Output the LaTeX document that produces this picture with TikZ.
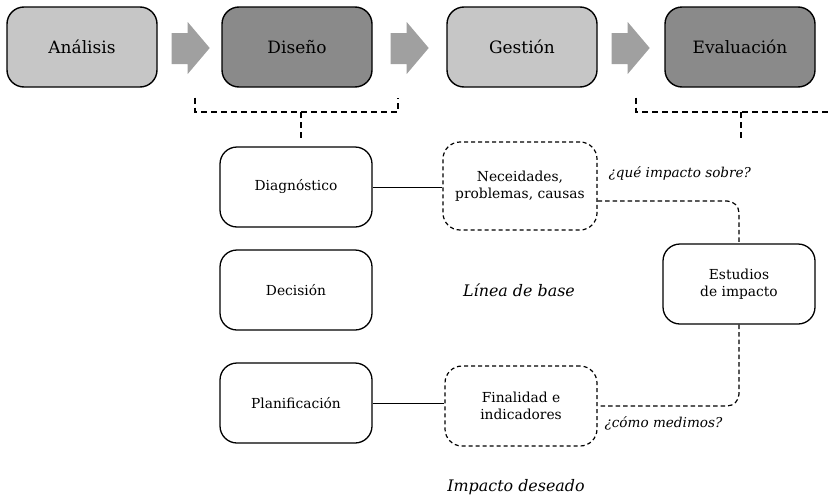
\documentclass[tikz,border=0pt]{standalone}
\usepackage{fontspec}
\setmainfont{DejaVu Serif}
\usetikzlibrary{calc}
\definecolor{lightbox}{HTML}{C6C6C6}
\definecolor{darkbox}{HTML}{8A8A8A}
\definecolor{arrowgray}{HTML}{A0A0A0}
\tikzset{
  phase/.style={draw, line width=1.4pt, rounded corners=17pt, minimum width=150pt, minimum height=80pt, inner sep=0pt, font=\fontsize{17}{20}\selectfont},
  lightphase/.style={phase, fill=lightbox},
  darkphase/.style={phase, fill=darkbox},
  stagebox/.style={draw, line width=1.3pt, rounded corners=17pt, minimum width=152pt, minimum height=80pt, inner sep=0pt, align=center, font=\fontsize{13.8}{17}\selectfont},
  dashbox/.style={stagebox, line width=1.2pt, dash pattern=on 4pt off 3pt},
  solidlink/.style={line width=1pt},
  dashlink/.style={line width=1.2pt, dash pattern=on 4.5pt off 3pt, rounded corners=12pt},
  bracket/.style={line width=2pt, dash pattern=on 6pt off 4pt},
  note/.style={font=\fontsize{13.6}{16}\selectfont\itshape},
  bignote/.style={font=\fontsize{15.9}{19}\selectfont\itshape},
  blockarrow/.style={fill=arrowgray}
}
\begin{document}
\begin{tikzpicture}[x=1pt,y=-1pt]
\useasboundingbox (0,0) rectangle (832,498);
% top phases
\node[lightphase] (ana) at (82,47) {Análisis};
\node[darkphase] (dis) at (297,47) {Diseño};
\node[lightphase] (ges) at (522,47) {Gestión};
\node[darkphase] (eva) at (740,47) {Evaluación};
% block arrows
\fill[blockarrow] ($(ana.east)+(14,-14)$) -- ++(16,0) -- ++(0,-11) -- ++(22,26) -- ++(-22,26) -- ++(0,-10) -- ++(-16,0) -- cycle;
\fill[blockarrow] ($(dis.east)+(18,-14)$) -- ++(16,0) -- ++(0,-11) -- ++(22,26) -- ++(-22,26) -- ++(0,-10) -- ++(-16,0) -- cycle;
\fill[blockarrow] ($(ges.east)+(14,-14)$) -- ++(16,0) -- ++(0,-11) -- ++(22,26) -- ++(-22,26) -- ++(0,-10) -- ++(-16,0) -- cycle;
% left column
\node[stagebox] (diag) at (296,187) {Diagnóstico};
\node[stagebox] (deci) at (296,290) {Decisión};
\node[stagebox] (plan) at (296,403) {Planificación};
% dashed boxes
\node[dashbox, minimum width=154pt, minimum height=88pt] (nec) at (520,186) {Neceidades,\\problemas, causas};
\node[dashbox] (fin) at (521,406) {Finalidad e\\indicadores};
\node[stagebox] (est) at (739,284) {Estudios\\de impacto};
% links
\draw[solidlink] (diag.east) -- (diag.east -| nec.west);
\draw[solidlink] (plan.east) -- (plan.east -| fin.west);
\draw[dashlink] ($(nec.east)+(0,15)$) -| (est.north);
\draw[dashlink] (est.south) |- (fin.east);
% brackets
\coordinate (b1) at (301,112);
\draw[bracket] ($(dis.south west)+(-26,10)$) |- (b1) -| ($(dis.south east)+(25,10)$);
\draw[bracket] (b1) -- (301,138);
\coordinate (b2) at (741,112);
\draw[bracket] ($(eva.south west)+(-28,10)$) |- (b2) -- (832,112);
\draw[bracket] (b2) -- (741,138);
% notes
\node[note, anchor=west] (q1) at (605,173) {¿qué impacto sobre?};
\node[note, anchor=west] (q2) at (601,423) {¿cómo medimos?};
\node[bignote] (lb) at (519,290) {Línea de base};
\node[bignote] (id) at (516,487) {Impacto deseado};
\end{tikzpicture}
\end{document}
